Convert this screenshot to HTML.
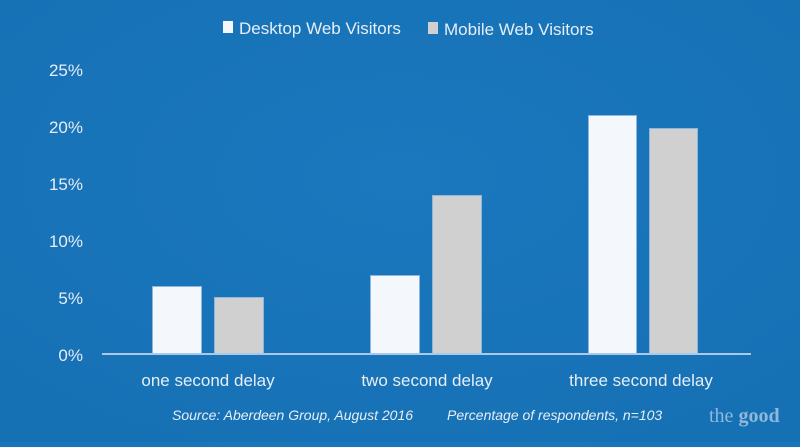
<!DOCTYPE html>
<html><head><meta charset="utf-8"><style>
body{margin:0;width:800px;height:442px;overflow:hidden;background:#1a75bb;}
svg text{font-family:"Liberation Sans Narrow","Liberation Sans",sans-serif;fill:#e6eef6;}
</style></head><body>
<svg width="800" height="442" viewBox="0 0 800 442">
<defs><radialGradient id="g" cx="50%" cy="40%" r="70%"><stop offset="0" stop-color="#1b78be"/><stop offset="1" stop-color="#1670b4"/></radialGradient></defs>
<rect width="800" height="442" fill="url(#g)"/>
<rect x="223" y="21" width="10" height="12" fill="#f4f8fc"/>
<text x="239" y="34" font-size="17">Desktop Web Visitors</text>
<rect x="428" y="22" width="10" height="12" fill="#d0d0d0"/>
<text x="444" y="35" font-size="17">Mobile Web Visitors</text>
<g font-size="17" text-anchor="end">
<text x="83" y="76">25%</text><text x="83" y="133">20%</text><text x="83" y="190">15%</text>
<text x="83" y="247">10%</text><text x="83" y="304">5%</text><text x="83" y="361">0%</text>
</g>
<g stroke="#8fb6dc" stroke-width="1">
<rect x="152.5" y="286.5" width="49" height="68" fill="#f4f8fc"/>
<rect x="214.5" y="297.5" width="49" height="57" fill="#d0d0d0"/>
<rect x="370.5" y="275.5" width="49" height="79" fill="#f4f8fc"/>
<rect x="432.5" y="195.5" width="49" height="159" fill="#d0d0d0"/>
<rect x="588.5" y="115.5" width="48" height="239" fill="#f4f8fc"/>
<rect x="649.5" y="128.5" width="48" height="226" fill="#d0d0d0"/>
</g>
<rect x="102" y="353" width="649" height="2" fill="#a9c9e6"/>
<g font-size="17" text-anchor="middle">
<text x="208" y="386">one second delay</text>
<text x="427" y="386">two second delay</text>
<text x="641" y="386">three second delay</text>
</g>
<g font-size="14" font-style="italic">
<text x="172" y="420">Source: Aberdeen Group, August 2016</text>
<text x="447" y="420">Percentage of respondents, n=103</text>
</g>
<text x="709" y="422" font-size="20" style="font-family:'Liberation Serif',serif;fill:#8fb8dc">the <tspan font-weight="bold">good</tspan></text>
</svg>
</body></html>
